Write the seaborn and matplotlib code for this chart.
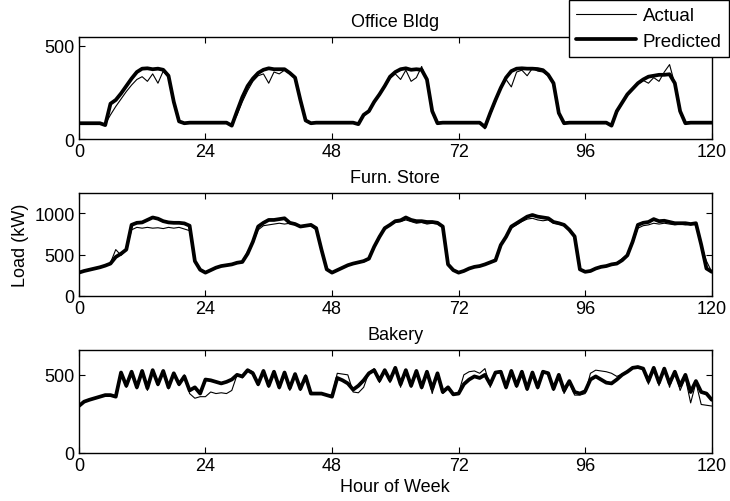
import matplotlib

matplotlib.use("Agg")
import matplotlib.pyplot as plt
import numpy as np
import seaborn as sns

# hour of week, one reading per hour
HOURS = np.arange(0, 121)
X_TICKS = [0, 24, 48, 72, 96, 120]

OFFICE_ACTUAL = [
    85, 85, 85, 85, 85, 80, 130, 175, 215, 255, 290, 320,
    335, 310, 350, 300, 365, 330, 190, 90, 85, 85, 85, 85,
    85, 85, 85, 85, 85, 75, 130, 200, 260, 310, 340, 350,
    300, 360, 350, 370, 350, 325, 200, 95, 85, 85, 85, 85,
    85, 85, 85, 85, 85, 85, 125, 145, 195, 235, 280, 325,
    350, 320, 370, 310, 330, 390, 310, 140, 85, 85, 85, 85,
    85, 85, 85, 85, 85, 55, 130, 200, 270, 320, 280, 360,
    370, 340, 380, 365, 360, 340, 290, 135, 85, 85, 85, 85,
    85, 85, 85, 85, 85, 80, 140, 190, 235, 265, 295, 315,
    300, 330, 310, 360, 400, 295, 140, 85, 85, 85, 85, 85,
    85,
]
OFFICE_PREDICTED = [
    85, 85, 85, 85, 85, 75, 190, 210, 245, 285, 325, 360,
    378, 380, 375, 378, 372, 340, 200, 95, 85, 88, 88, 88,
    88, 88, 88, 88, 88, 72, 150, 225, 285, 325, 355, 372,
    380, 375, 375, 375, 355, 330, 210, 100, 85, 88, 88, 88,
    88, 88, 88, 88, 88, 80, 130, 150, 200, 240, 285, 335,
    360, 375, 380, 372, 375, 372, 320, 150, 85, 88, 88, 88,
    88, 88, 88, 88, 88, 65, 140, 210, 275, 330, 365, 378,
    380, 378, 378, 376, 370, 345, 300, 140, 85, 88, 88, 88,
    88, 88, 88, 88, 88, 72, 150, 195, 240, 270, 300, 320,
    335, 340, 345, 345, 348, 300, 150, 85, 88, 88, 88, 88,
    88,
]

FURN_ACTUAL = [
    285, 300, 320, 330, 350, 370, 400, 560, 490, 560, 800, 830,
    820, 830, 820, 825, 815, 830, 820, 830, 810, 790, 420, 315,
    285, 310, 340, 355, 370, 385, 395, 410, 540, 640, 800, 850,
    860, 870, 880, 870, 880, 860, 850, 855, 850, 800, 560, 320,
    285, 315, 345, 365, 385, 400, 410, 440, 600, 730, 800, 860,
    890, 900, 920, 900, 880, 890, 870, 880, 870, 830, 380, 310,
    285, 305, 330, 345, 365, 375, 400, 420, 620, 720, 820, 860,
    900, 930, 940, 920, 910, 920, 880, 870, 850, 790, 720, 320,
    290, 305, 330, 345, 360, 380, 395, 450, 500, 640, 820, 850,
    860, 880, 870, 880, 870, 860, 870, 860, 870, 860, 620, 420,
    290,
]
FURN_PREDICTED = [
    280, 300, 315, 330, 345, 365, 390, 470, 510, 560, 860, 885,
    890, 920, 950, 935, 905, 890, 885, 885, 878, 850, 420, 315,
    280, 310, 340, 360, 370, 380, 400, 410, 510, 655, 840, 885,
    920, 920, 930, 940, 885, 870, 840, 850, 860, 820, 560, 320,
    280, 310, 340, 370, 390, 405, 420, 450, 595, 715, 820, 860,
    905, 915, 950, 920, 905, 905, 895, 895, 885, 840, 380, 310,
    280, 300, 330, 350, 360, 380, 405, 430, 615, 715, 840, 880,
    920, 960, 980, 960, 950, 940, 895, 880, 860, 800, 720, 320,
    290, 300, 330, 350, 360, 380, 390, 430, 490, 655, 860, 885,
    895, 930, 905, 910, 895, 880, 880, 880, 870, 880, 620, 330,
    290,
]

BAKERY_ACTUAL = [
    300, 325, 340, 350, 360, 370, 370, 360, 510, 420, 525, 410,
    530, 400, 535, 430, 520, 410, 515, 430, 500, 380, 350, 360,
    360, 390, 380, 385, 380, 400, 500, 480, 535, 520, 430, 530,
    420, 525, 410, 510, 400, 500, 400, 500, 390, 380, 375, 370,
    370, 510, 505, 500, 390, 385, 420, 515, 540, 450, 535, 450,
    550, 420, 535, 420, 530, 410, 525, 380, 515, 380, 410, 370,
    385, 500, 520, 525, 510, 540, 420, 520, 525, 410, 530, 420,
    525, 400, 520, 410, 525, 515, 400, 505, 380, 450, 370, 370,
    380, 510, 530, 525, 520, 510, 490, 505, 525, 550, 555, 540,
    440, 550, 430, 545, 420, 525, 400, 480, 320, 450, 310, 305,
    300,
]
BAKERY_PREDICTED = [
    300, 328, 340, 350, 360, 370, 370, 360, 515, 430, 520, 420,
    525, 415, 530, 440, 525, 420, 510, 440, 490, 400, 420, 380,
    470, 465, 455, 445, 455, 470, 500, 490, 530, 510, 440, 525,
    430, 520, 420, 515, 415, 505, 410, 490, 380, 380, 380, 370,
    360, 480, 465, 445, 405, 430, 465, 510, 530, 465, 530, 465,
    545, 440, 530, 430, 525, 420, 520, 410, 510, 390, 420, 375,
    380, 440, 470, 490, 480, 500, 440, 515, 520, 420, 525, 430,
    520, 410, 515, 420, 520, 510, 410, 500, 400, 460, 390, 380,
    395, 470, 490, 470, 450, 445, 470, 500, 520, 545, 550, 540,
    460, 545, 450, 540, 445, 520, 430, 500, 390, 460, 390, 380,
    340,
]

PANELS = [
    ("Office Bldg", OFFICE_ACTUAL, OFFICE_PREDICTED, 550, [0, 500]),
    ("Furn. Store", FURN_ACTUAL, FURN_PREDICTED, 1250, [0, 500, 1000]),
    ("Bakery", BAKERY_ACTUAL, BAKERY_PREDICTED, 660, [0, 500]),
]

# axes boxes in figure fraction: left, bottom, width, height
AXES_BOXES = [
    [0.108, 0.721, 0.867, 0.204],
    [0.108, 0.409, 0.867, 0.205],
    [0.108, 0.096, 0.867, 0.205],
]

sns.set_theme(style="ticks")
plt.rcParams["font.family"] = ["Liberation Sans", "DejaVu Sans"]
plt.rcParams["axes.unicode_minus"] = False
plt.rcParams["text.color"] = "black"
plt.rcParams["axes.labelcolor"] = "black"

fig = plt.figure(figsize=(7.3, 5.02), dpi=100)

axes = []
for (title, actual, predicted, y_top, y_ticks), box in zip(PANELS, AXES_BOXES):
    ax = fig.add_axes(box)
    sns.lineplot(x=HOURS, y=actual, ax=ax, color="black", linewidth=0.8,
                 label="Actual", legend=False)
    sns.lineplot(x=HOURS, y=predicted, ax=ax, color="black", linewidth=2.7,
                 label="Predicted", legend=False, solid_joinstyle="round")
    if ax.get_legend() is not None:
        ax.get_legend().remove()

    ax.set_xlim(0, 120)
    ax.set_ylim(0, y_top)
    ax.set_xticks(X_TICKS)
    ax.set_yticks(y_ticks)
    ax.set_title(title, fontsize=13, pad=8, color="black")
    ax.set_xlabel("")
    ax.set_ylabel("")
    ax.tick_params(direction="in", top=True, right=True, length=4, width=0.8,
                   labelsize=13, colors="black", pad=3)
    for spine in ax.spines.values():
        spine.set_visible(True)
        spine.set_color("black")
        spine.set_linewidth(1.0)
    axes.append(ax)

axes[1].set_ylabel("Load (kW)", fontsize=13, labelpad=4, color="black")
axes[2].set_xlabel("Hour of Week", fontsize=13, labelpad=3, color="black")

handles, labels = axes[0].get_legend_handles_labels()
leg = fig.legend(
    handles, labels,
    loc="upper right",
    bbox_to_anchor=(0.999, 0.999),
    fontsize=13.5,
    frameon=True,
    fancybox=False,
    framealpha=1,
    edgecolor="black",
    handlelength=3.2,
    handletextpad=0.35,
    borderpad=0.4,
    labelspacing=0.45,
    borderaxespad=0,
)
leg.get_frame().set_linewidth(1.0)
for text in leg.get_texts():
    text.set_color("black")

fig.savefig("out.png", dpi=100)
plt.close(fig)
